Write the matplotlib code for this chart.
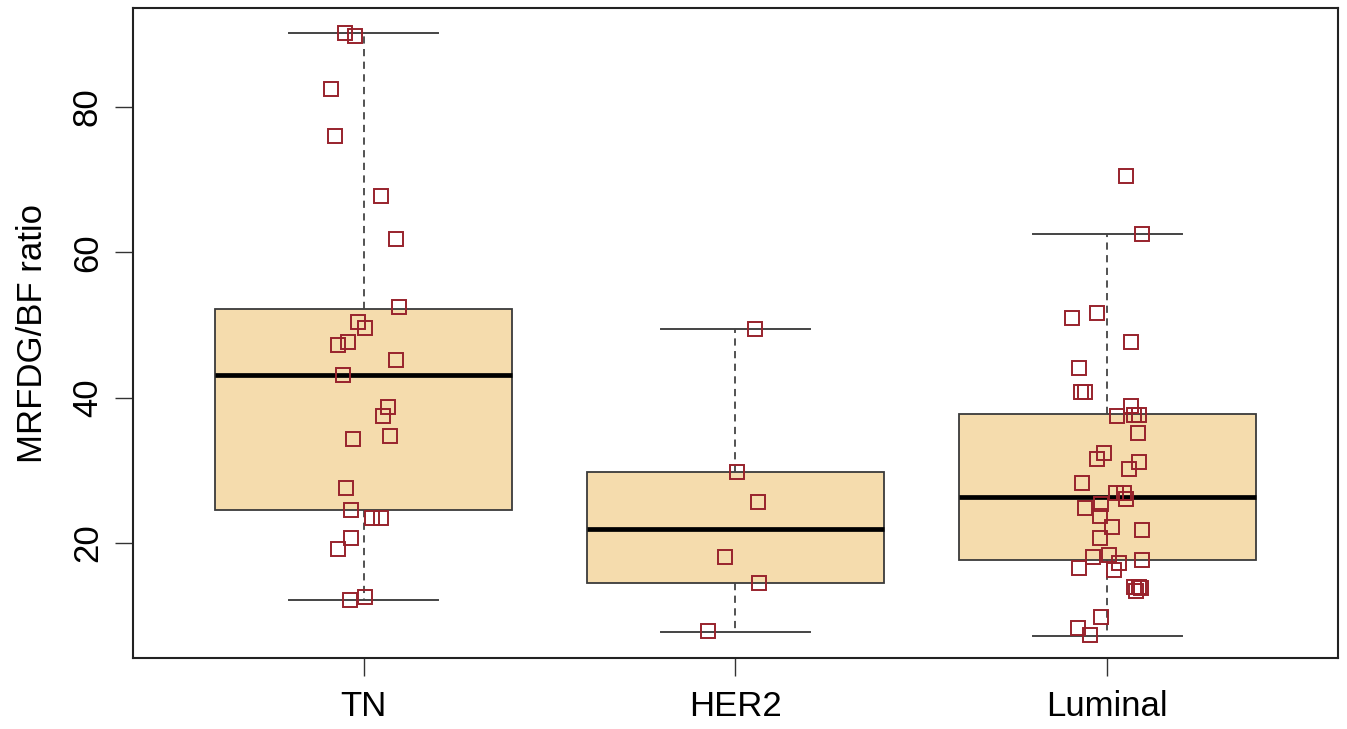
import matplotlib
matplotlib.use("Agg")
import matplotlib.pyplot as plt

# Subtype groups
groups = ["TN", "HER2", "Luminal"]

# Individual MRFDG/BF ratios per subtype
tn_values = [90.2, 89.8, 82.5, 76.0, 67.8, 61.8, 52.5, 50.4, 49.6, 47.7, 47.3, 45.2,
             43.1, 38.7, 37.5, 34.7, 34.3, 27.6, 24.5, 23.4, 23.4, 20.7, 19.2, 12.6, 12.2]
her2_values = [49.4, 29.8, 25.6, 18.1, 14.5, 7.9]
luminal_values = [70.5, 62.5, 51.0, 51.6, 47.7, 44.1, 40.8, 40.8, 38.9, 37.4, 37.6, 37.6,
                  35.1, 32.4, 31.6, 31.1, 30.2, 28.3, 26.9, 26.9, 26.1, 24.8, 25.4, 23.7,
                  22.2, 21.8, 20.7, 18.4, 18.1, 17.7, 17.2, 16.6, 16.3, 14.0, 14.0, 13.8,
                  13.4, 9.8, 8.3, 7.3]

# Horizontal jitter of each point around its group centre
tn_jitter = [-0.051, -0.024, -0.088, -0.078, 0.046, 0.088, 0.094, -0.016, 0.003, -0.043,
             -0.070, 0.088, -0.054, 0.067, 0.051, 0.072, -0.027, -0.048, -0.035, 0.024,
             0.046, -0.035, -0.070, 0.003, -0.037]
her2_jitter = [0.052, 0.003, 0.060, -0.027, 0.063, -0.075]
luminal_jitter = [0.051, 0.094, -0.094, -0.027, 0.064, -0.075, -0.070, -0.059, 0.064, 0.026,
                  0.072, 0.085, 0.083, -0.010, -0.027, 0.085, 0.059, -0.067, 0.024, 0.046,
                  0.051, -0.059, -0.016, -0.021, 0.013, 0.094, -0.019, 0.005, -0.040, 0.094,
                  0.032, -0.075, 0.019, 0.072, 0.085, 0.091, 0.078, -0.016, -0.078, -0.046]

# Box summaries: lower whisker, lower hinge, median, upper hinge, upper whisker
whisker_low = [12.2, 7.75, 7.2]
hinge_low = [24.5, 14.5, 17.7]
medians = [43.1, 21.85, 26.3]
hinge_high = [52.2, 29.8, 37.7]
whisker_high = [90.2, 49.4, 62.5]

y_ticks = [20, 40, 60, 80]

plt.rcParams["font.family"] = ["Liberation Sans", "DejaVu Sans"]

fig = plt.figure(figsize=(13.47, 7.29), dpi=100)
ax = fig.add_axes([0.0987, 0.0974, 0.8946, 0.8916])

stats = []
for i, g in enumerate(groups):
    stats.append({
        "label": g,
        "whislo": whisker_low[i],
        "q1": hinge_low[i],
        "med": medians[i],
        "q3": hinge_high[i],
        "whishi": whisker_high[i],
        "fliers": [],
    })

positions = list(range(1, len(groups) + 1))
ax.bxp(
    stats,
    positions=positions,
    widths=0.8,
    capwidths=0.4,
    patch_artist=True,
    showfliers=False,
    manage_ticks=False,
    boxprops=dict(facecolor="#F5DCAD", edgecolor="#3a3a3a", linewidth=1.3),
    medianprops=dict(color="black", linewidth=3.4, solid_capstyle="butt"),
    whiskerprops=dict(color="#444444", linewidth=1.3, linestyle=(0, (4, 3))),
    capprops=dict(color="#444444", linewidth=1.4),
    zorder=1,
)

all_values = [tn_values, her2_values, luminal_values]
all_jitter = [tn_jitter, her2_jitter, luminal_jitter]
for pos, vals, jit in zip(positions, all_values, all_jitter):
    xs = [pos + j for j in jit]
    ax.plot(xs, vals, linestyle="none", marker="s", markersize=10,
            markerfacecolor="none", markeredgecolor="#98222C",
            markeredgewidth=1.4, zorder=3)

ax.set_xlim(0.38, 3.62)
ax.set_ylim(4.17, 93.6)

ax.set_xticks(positions)
ax.set_xticklabels(groups, fontsize=25)
ax.set_yticks(y_ticks)
ax.set_yticklabels([str(t) for t in y_ticks], fontsize=25, rotation=90, va="center")

ax.tick_params(axis="both", direction="out", length=13, width=1.0, color="#333333")
ax.tick_params(axis="x", pad=10)
ax.tick_params(axis="y", pad=8)

for sp in ax.spines.values():
    sp.set_linewidth(1.5)
    sp.set_color("#222222")

ax.set_ylabel("MRFDG/BF ratio", fontsize=25, labelpad=16)

fig.savefig("out.png", dpi=100, facecolor="white")
